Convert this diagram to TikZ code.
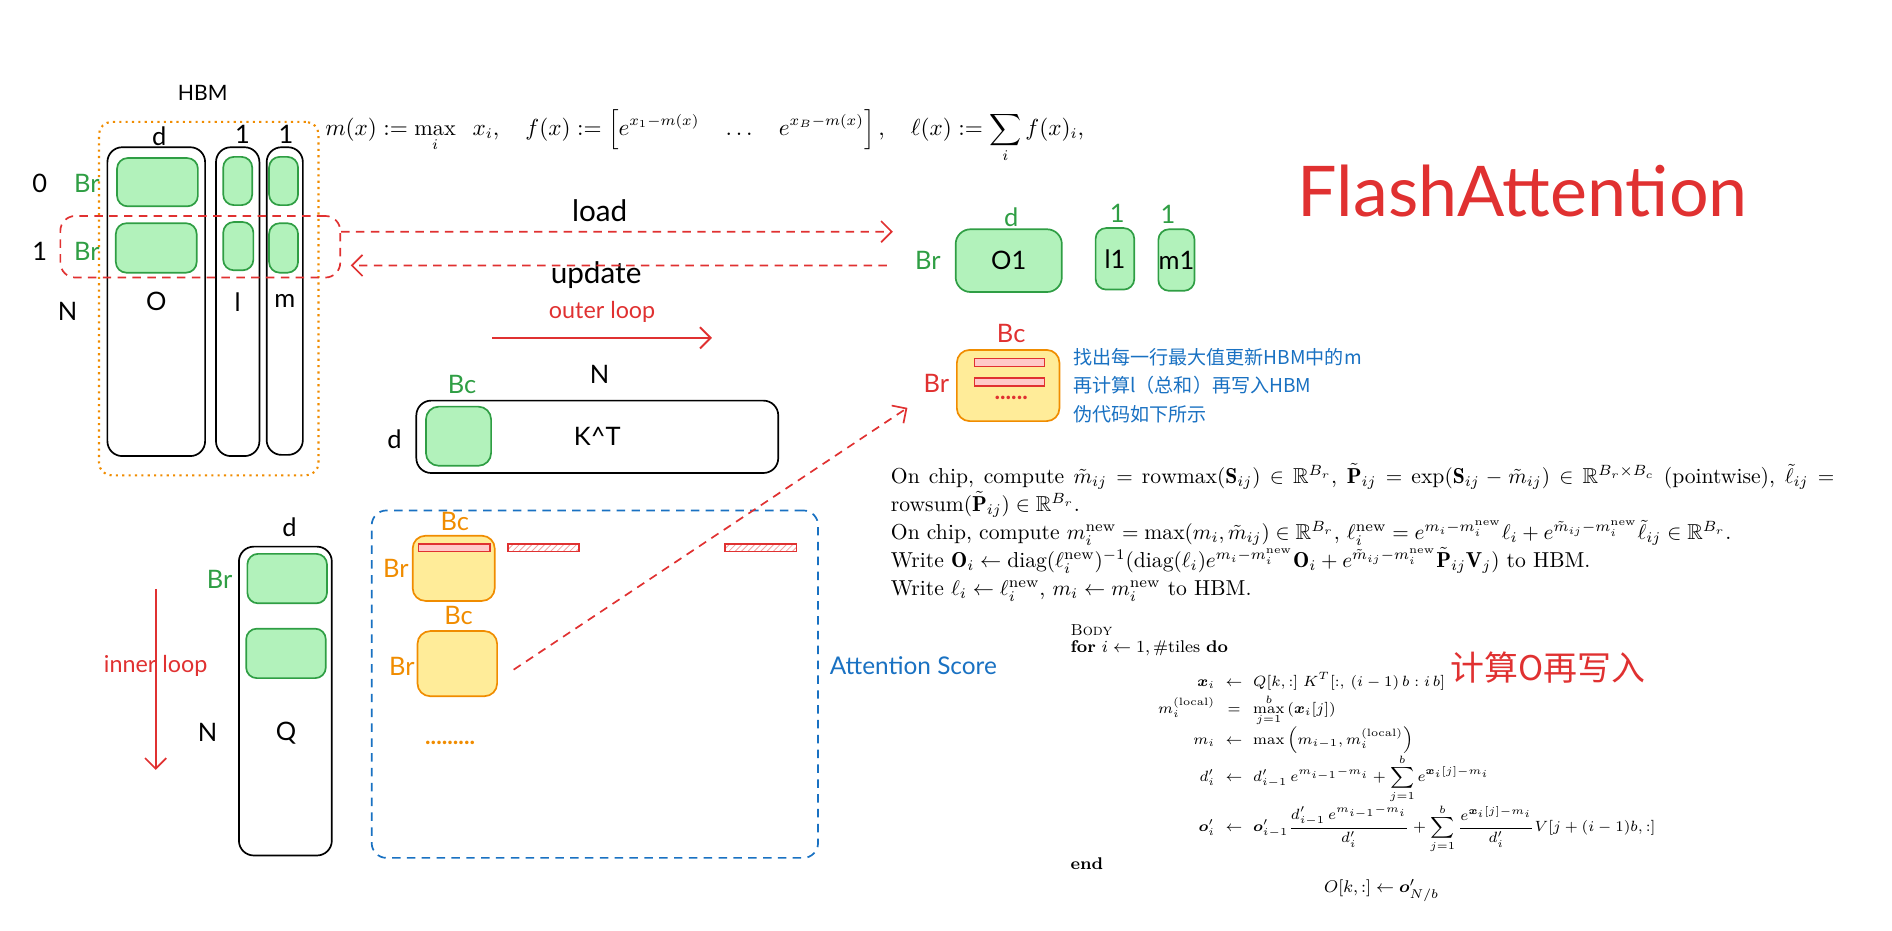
\documentclass[tikz,border=0pt]{standalone}
\usepackage{amsmath,amssymb,bm}
\usepackage{fontspec}
\usetikzlibrary{arrows.meta,positioning,patterns}
\newfontfamily\handfont{Lato}
\newfontfamily\cjkfont{Noto Sans CJK SC}
\definecolor{xgreen}{RGB}{47,158,68}
\definecolor{softgreen}{RGB}{178,242,187}
\definecolor{xorange}{RGB}{240,140,0}
\definecolor{softyellow}{RGB}{255,236,153}
\definecolor{xred}{RGB}{224,49,49}
\definecolor{softpink}{RGB}{255,201,201}
\definecolor{xblue}{RGB}{25,113,194}

\begin{document}
\begin{tikzpicture}[x=0.02cm,y=-0.02cm,
    every node/.style={font=\handfont\fontsize{12}{14}\selectfont},
    col/.style={draw=black,line width=0.8pt,rounded corners=7pt,inner sep=0pt},
    gblk/.style={draw=xgreen,fill=softgreen,line width=0.8pt,rounded corners=5pt,inner sep=0pt},
    yblk/.style={draw=xorange,fill=softyellow,line width=0.8pt,rounded corners=6pt,inner sep=0pt,minimum width=1.34cm,minimum height=1.08cm},
    pbar/.style={draw=xred,fill=softpink,line width=0.7pt,inner sep=0pt,minimum width=1.16cm,minimum height=0.13cm},
    hbar/.style={draw=xred,pattern=north east lines,pattern color=xred!45,line width=0.7pt,inner sep=0pt,minimum width=1.18cm,minimum height=0.13cm},
    redash/.style={draw=xred,line width=0.8pt,dash pattern=on 4pt off 3pt},
    barb/.style={-{Straight Barb[length=5pt,width=10pt]}},
    glbl/.style={text=xgreen},
    olbl/.style={text=xorange},
    rlbl/.style={text=xred},
    algtxt/.style={font=\fontsize{7}{9}\selectfont}]
  \useasboundingbox (0,0) rectangle (1568,771);

  % HBM
  \node[draw=xorange,line width=1pt,dash pattern=on 1pt off 2pt,rounded corners=6pt,minimum width=3.64cm,minimum height=5.86cm,inner sep=0pt] (hbmbox) at (173,247.5) {};
  \node[font=\handfont\fontsize{10}{12}\selectfont] (hbm) at (168,77) {HBM};
  \node[col,minimum width=1.62cm,minimum height=5.12cm] (colO) at (129.5,250) {O};
  \node[col,minimum width=0.72cm,minimum height=5.12cm] (colL) at (197,250) {l};
  \node[col,minimum width=0.60cm,minimum height=5.10cm] (colM) at (236,249.5) {m};
  \node[gblk,minimum width=1.34cm,minimum height=0.80cm] (oA) at (130.5,151) {};
  \node[gblk,minimum width=1.34cm,minimum height=0.82cm] (oB) at (129.5,205.5) {};
  \node[gblk,minimum width=0.48cm,minimum height=0.80cm] (lA) at (197,150) {};
  \node[gblk,minimum width=0.50cm,minimum height=0.80cm] (lB) at (197.5,204) {};
  \node[gblk,minimum width=0.48cm,minimum height=0.80cm] (mA) at (235,150) {};
  \node[gblk,minimum width=0.48cm,minimum height=0.82cm] (mB) at (235,205.5) {};
  \node (dO) at (132,113) {d};
  \node (oneL) at (201,111) {1};
  \node (oneM) at (237,111) {1};
  \node (row0) at (33,152) {0};
  \node[glbl] (brA) at (72,152) {Br};
  \node (row1) at (33,208) {1};
  \node[glbl] (brB) at (72,208) {Br};
  \node (nO) at (56,258) {N};
  \node[draw=xred,line width=0.8pt,dash pattern=on 4pt off 3pt,rounded corners=7pt,minimum width=4.64cm,minimum height=1.02cm,inner sep=0pt] (rowsel) at (166,204.5) {};

  % softmax definitions
  \node[font=\fontsize{10.5}{12}\selectfont,inner sep=0pt] (fdef) at (584,113) {$\displaystyle m(x) := \max_{i}\;\; x_i, \quad f(x) := \left[e^{x_1-m(x)} \quad \dots \quad e^{x_B-m(x)}\right], \quad \ell(x) := \sum_i f(x)_i,$};

  % load / update
  \node[font=\handfont\fontsize{14}{16}\selectfont] (load) at (497,175) {load};
  \node[font=\handfont\fontsize{14}{16}\selectfont] (upd) at (494,228) {update};
  \coordinate (loadend) at (740,192);
  \coordinate (updstart) at (735,220);
  \draw[redash,barb] ([yshift=0.25cm]rowsel.east) -- (loadend);
  \draw[redash,barb] (updstart) -- ([xshift=0.16cm,yshift=-0.31cm]rowsel.east);

  % on chip O1, l1, m1
  \node[gblk,rounded corners=7pt,minimum width=1.76cm,minimum height=1.04cm] (O1) at (836,216) {O1};
  \node[gblk,minimum width=0.64cm,minimum height=1.02cm] (l1) at (924,214.5) {l1};
  \node[gblk,minimum width=0.60cm,minimum height=1.02cm] (m1) at (975,215.5) {m1};
  \node[glbl] (dO1) at (838,180) {d};
  \node[glbl] (onel1) at (926,177) {1};
  \node[glbl] (onem1) at (968,178) {1};
  \node[glbl] (brO1) at (769,216) {Br};

  \node[text=xred,font=\handfont\fontsize{33}{38}\selectfont] (title) at (1262,158) {FlashAttention};

  % K^T
  \coordinate (olA) at (408,280);
  \coordinate (olB) at (590,280);
  \draw[xred,line width=0.9pt,barb] (olA) -- (olB) node[midway,above=0.12cm,rlbl,font=\handfont\fontsize{11}{13}\selectfont] (olt) {outer loop};
  \node[col,minimum width=6.0cm,minimum height=1.2cm] (kt) at (495,362) {K\^{}T};
  \node[gblk,rounded corners=6pt,minimum width=1.08cm,minimum height=0.98cm] (ktA) at (380,361.5) {};
  \node (nK) at (497,310) {N};
  \node[glbl] (bcK) at (383,319) {Bc};
  \node (dK) at (327,364) {d};

  % S block on chip
  \node[yblk,minimum width=1.7cm,minimum height=1.18cm] (sblk) at (835.5,319.5) {};
  \node[pbar] (sbarA) at (836.5,300.5) {};
  \node[pbar] (sbarB) at (836.5,316.5) {};
  \node[rlbl,font=\handfont\bfseries\fontsize{11}{13}\selectfont] (sdots) at (838,330) {......};
  \node[rlbl] (bcS) at (838,276) {Bc};
  \node[rlbl] (brS) at (776,318) {Br};
  \node[anchor=north west,align=left,inner sep=0pt,text=xblue,font=\cjkfont\fontsize{9}{13.6}\selectfont] (note) at (889,288) {找出每一行最大值更新HBM中的m\\再计算l（总和）再写入HBM\\伪代码如下所示};

  % paper excerpt
  \node[anchor=north west,align=left,inner sep=0pt,font=\fontsize{10.2}{13.2}\selectfont] (chip) at (738,384) {%
    \makebox[15.64cm][s]{On chip, compute $\tilde m_{ij} = \mathrm{rowmax}(\mathbf{S}_{ij}) \in \mathbb{R}^{B_r}$, $\tilde{\mathbf{P}}_{ij} = \exp(\mathbf{S}_{ij} - \tilde m_{ij}) \in \mathbb{R}^{B_r\times B_c}$ (pointwise), $\tilde\ell_{ij} =$}\\
    rowsum$(\tilde{\mathbf{P}}_{ij}) \in \mathbb{R}^{B_r}$.\\
    On chip, compute $m_i^{\mathrm{new}} = \max(m_i,\tilde m_{ij}) \in \mathbb{R}^{B_r}$, $\ell_i^{\mathrm{new}} = e^{m_i-m_i^{\mathrm{new}}}\ell_i + e^{\tilde m_{ij}-m_i^{\mathrm{new}}}\tilde\ell_{ij} \in \mathbb{R}^{B_r}$.\\
    Write $\mathbf{O}_i \leftarrow \mathrm{diag}(\ell_i^{\mathrm{new}})^{-1}(\mathrm{diag}(\ell_i)e^{m_i-m_i^{\mathrm{new}}}\mathbf{O}_i + e^{\tilde m_{ij}-m_i^{\mathrm{new}}}\tilde{\mathbf{P}}_{ij}\mathbf{V}_j)$ to HBM.\\
    Write $\ell_i \leftarrow \ell_i^{\mathrm{new}}$, $m_i \leftarrow m_i^{\mathrm{new}}$ to HBM.};

  % pseudo code
  \node[anchor=west,font=\fontsize{7.5}{9}\selectfont] (body) at (881,522) {\textsc{Body}};
  \node[anchor=west,font=\fontsize{8}{10}\selectfont] (forl) at (881,537) {\textbf{for} $i\leftarrow 1,\#$tiles \textbf{do}};
  \node[anchor=north west,inner sep=0pt,algtxt] (algo) at (955,557) {\setlength{\arraycolsep}{2.5pt}$\begin{array}{rcl}
    \boldsymbol{x}_i & \leftarrow & Q[k,:]\;K^T[:,\,(i-1)\,b:i\,b] \\[1pt]
    m_i^{(\mathrm{local})} & = & \displaystyle\max_{j=1}^{b}\,(\boldsymbol{x}_i[j]) \\[0pt]
    m_i & \leftarrow & \max\left(m_{i-1},m_i^{(\mathrm{local})}\right) \\[0pt]
    d_i' & \leftarrow & d_{i-1}'\,e^{m_{i-1}-m_i}+\displaystyle\sum_{j=1}^{b} e^{\boldsymbol{x}_i[j]-m_i} \\[0pt]
    \boldsymbol{o}_i' & \leftarrow & \boldsymbol{o}_{i-1}'\dfrac{d_{i-1}'\,e^{m_{i-1}-m_i}}{d_i'}+\displaystyle\sum_{j=1}^{b}\dfrac{e^{\boldsymbol{x}_i[j]-m_i}}{d_i'}V[j+(i-1)b,:]
  \end{array}$};
  \node[anchor=west,font=\fontsize{8}{10}\selectfont] (endl) at (881,716) {\textbf{end}};
  \node[font=\fontsize{8}{10}\selectfont] (ofin) at (1145,738) {$O[k,:]\leftarrow\boldsymbol{o}_{N/b}'$};
  \node[text=xred,font=\cjkfont\fontsize{16}{18}\selectfont] (calc) at (1283,553) {计算O再写入};

  % Q
  \node[col,minimum width=1.54cm,minimum height=5.12cm] (colQ) at (236.5,581) {};
  \node[gblk,minimum width=1.32cm,minimum height=0.82cm] (qA) at (238,479.5) {};
  \node[gblk,minimum width=1.32cm,minimum height=0.82cm] (qB) at (237,541.5) {};
  \node (dQ) at (240,437) {d};
  \node[glbl] (brQ) at (182,480) {Br};
  \node (qlbl) at (237,608) {Q};
  \node (nQ) at (172,607) {N};
  \coordinate (ilA) at (129,488);
  \coordinate (ilB) at (129,638);
  \draw[xred,line width=0.8pt,barb] (ilA) -- (ilB);
  \node[rlbl,font=\handfont\fontsize{11}{13}\selectfont] (ilt) at (129,552) {inner loop};

  % attention score
  \node[draw=xblue,line width=0.8pt,dash pattern=on 4pt off 3pt,rounded corners=7pt,minimum width=7.4cm,minimum height=5.76cm,inner sep=0pt] (attn) at (493,567) {};
  \node[text=xblue,font=\handfont\fontsize{11.5}{13}\selectfont] (attnlbl) at (757,552) {Attention Score};
  \node[yblk,minimum width=1.36cm] (blkA) at (376,471) {};
  \node[pbar,minimum width=1.18cm] (rowA) at (376.5,454) {};
  \node[hbar] (rowB) at (450.5,454) {};
  \node[hbar] (rowC) at (630.5,454) {};
  \node[olbl] (bcA) at (377,432) {Bc};
  \node[olbl] (brA2) at (328,471) {Br};
  \node[yblk,minimum width=1.32cm] (blkB) at (379,550) {};
  \node[olbl] (bcB) at (380,510) {Bc};
  \node[olbl] (brB2) at (333,552) {Br};
  \node[olbl,font=\handfont\bfseries\fontsize{11}{13}\selectfont] (adots) at (373,616) {.........};
  \coordinate (sblkin) at (752,338);
  \draw[redash,barb] ([xshift=0.26cm,yshift=-0.1cm]blkB.east) -- (sblkin);
\end{tikzpicture}
\end{document}
